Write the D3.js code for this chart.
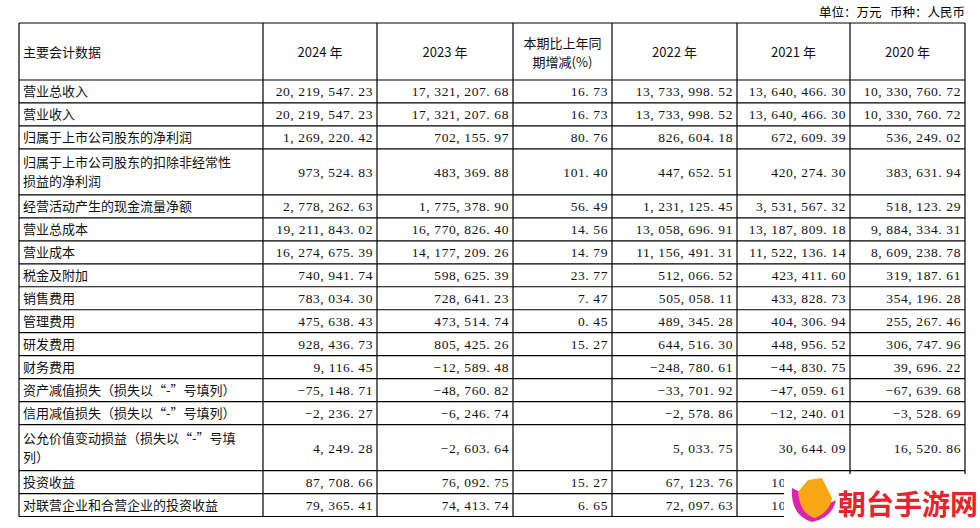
<!DOCTYPE html>
<html><head><meta charset="utf-8">
<script src="https://cdn.jsdelivr.net/npm/d3@7"></script>
<style>body{margin:0;background:#fff}</style></head>
<body><svg id="c" width="980" height="528"></svg>
<script>
const columns = ["主要会计数据","2024 年","2023 年","本期比上年同\n期增减(%)","2022 年","2021 年","2020 年"];
const labels = ["营业总收入","营业收入","归属于上市公司股东的净利润","归属于上市公司股东的扣除非经常性\n损益的净利润","经营活动产生的现金流量净额","营业总成本","营业成本","税金及附加","销售费用","管理费用","研发费用","财务费用","资产减值损失（损失以“-”号填列）","信用减值损失（损失以“-”号填列）","公允价值变动损益（损失以“-”号填\n列）","投资收益","对联营企业和合营企业的投资收益"];
const v2024 = ["20,219,547.23","20,219,547.23","1,269,220.42","973,524.83","2,778,262.63","19,211,843.02","16,274,675.39","740,941.74","783,034.30","475,638.43","928,436.73","9,116.45","-75,148.71","-2,236.27","4,249.28","87,708.66","79,365.41"];
const v2023 = ["17,321,207.68","17,321,207.68","702,155.97","483,369.88","1,775,378.90","16,770,826.40","14,177,209.26","598,625.39","728,641.23","473,514.74","805,425.26","-12,589.48","-48,760.82","-6,246.74","-2,603.64","76,092.75","74,413.74"];
const pct = ["16.73","16.73","80.76","101.40","56.49","14.56","14.79","23.77","7.47","0.45","15.27","","","","","15.27","6.65"];
const v2022 = ["13,733,998.52","13,733,998.52","826,604.18","447,652.51","1,231,125.45","13,058,696.91","11,156,491.31","512,066.52","505,058.11","489,345.28","644,516.30","-248,780.61","-33,701.92","-2,578.86","5,033.75","67,123.76","72,097.63"];
const v2021 = ["13,640,466.30","13,640,466.30","672,609.39","420,274.30","3,531,567.32","13,187,809.18","11,522,136.14","423,411.60","433,828.73","404,306.94","448,956.52","-44,830.75","-47,059.61","-12,240.01","30,644.09","105,000.00","104,000.00"];
const v2020 = ["10,330,760.72","10,330,760.72","536,249.02","383,631.94","518,123.29","9,884,334.31","8,609,238.78","319,187.61","354,196.28","255,267.46","306,747.96","39,696.22","-67,639.68","-3,528.69","16,520.86","",""];
const rowUnits = [1,1,1,2,1,1,1,1,1,1,1,1,1,1,2,1,1];

const svg = d3.select("#c");
const colEdges = [19,263,377,513,612,737,850,965];
const cum = [0]; rowUnits.forEach(u=>cum.push(cum[cum.length-1]+u));
const y = d3.scaleLinear().domain([0,cum[cum.length-1]]).range([80,516.5]);
const font = "'Noto Sans CJK SC','DejaVu Serif',serif";
const numFont = "'Liberation Serif','DejaVu Serif',serif";

svg.append("defs").append("clipPath").attr("id","wmclip").append("rect")
  .attr("x",0).attr("y",0).attr("width",784).attr("height",528);

svg.append("text").attr("x",965).attr("y",17).attr("text-anchor","end")
  .attr("font-family",font).attr("font-size",12.5).style("white-space","pre")
  .text("单位：万元   币种：人民币");

const g = svg.append("g").attr("stroke","#000").attr("stroke-width",1.2);
const hLines=[23,...cum.map(c=>y(c))];
g.selectAll("line.h").data(hLines).join("line").attr("x1",19).attr("x2",965)
 .attr("y1",d=>d).attr("y2",d=>d);
g.selectAll("line.v").data(colEdges).join("line").attr("x1",d=>d).attr("x2",d=>d)
 .attr("y1",23).attr("y2",y(cum[cum.length-1]));

function multiline(sel, txt, cx, cy, anchor, fam){
  const lines = txt.split("\n");
  const t = sel.append("text").attr("text-anchor",anchor).attr("font-family",fam)
    .attr("font-size",13).attr("fill","#111");
  lines.forEach((l,i)=>t.append("tspan").attr("x",cx).attr("y",cy+(i-(lines.length-1)/2)*19+5).text(l));
}
columns.forEach((c,i)=>{
  if(i===0) multiline(svg,c,colEdges[0]+4,52,"start",font);
  else multiline(svg,c,(colEdges[i]+colEdges[i+1])/2,52,"middle",font);
});
const cols=[v2024,v2023,pct,v2022,v2021,v2020];
labels.forEach((lab,r)=>{
  const cy=(y(cum[r])+y(cum[r+1]))/2;
  multiline(svg,lab,23,cy,"start",font);
  cols.forEach((arr,j)=>{
    const s=arr[r]; if(!s) return;
    const t=svg.append("text").attr("x",colEdges[j+2]-4).attr("y",cy+5).attr("text-anchor","end")
      .attr("font-family",numFont).attr("font-size",13.5).attr("letter-spacing",0.6)
      .attr("fill","#111").text(s.replace(/,/g,", ").replace(".",". ").replace("-","−"));
    if(r>=15 && j>=4) t.attr("clip-path","url(#wmclip)");
  });
});
const wm=svg.append("g");
wm.append("rect").attr("x",784).attr("y",474).attr("width",196).attr("height",54).attr("fill","#fff");
wm.append("path").attr("d","M792,488 Q790,515 812,522 Q832,518 836,500 L826,505 Q818,492 800,492 Z").attr("fill","#e020b0");
wm.append("path").attr("d","M798,492 Q800,514 815,518 Q830,512 832,498 L822,478 L808,480 Z").attr("fill","#f7a614");
wm.append("text").attr("x",838).attr("y",515).attr("font-family",font).attr("font-weight","bold")
  .attr("font-size",28).attr("fill","#e8232b").text("朝台手游网");
</script></body></html>
